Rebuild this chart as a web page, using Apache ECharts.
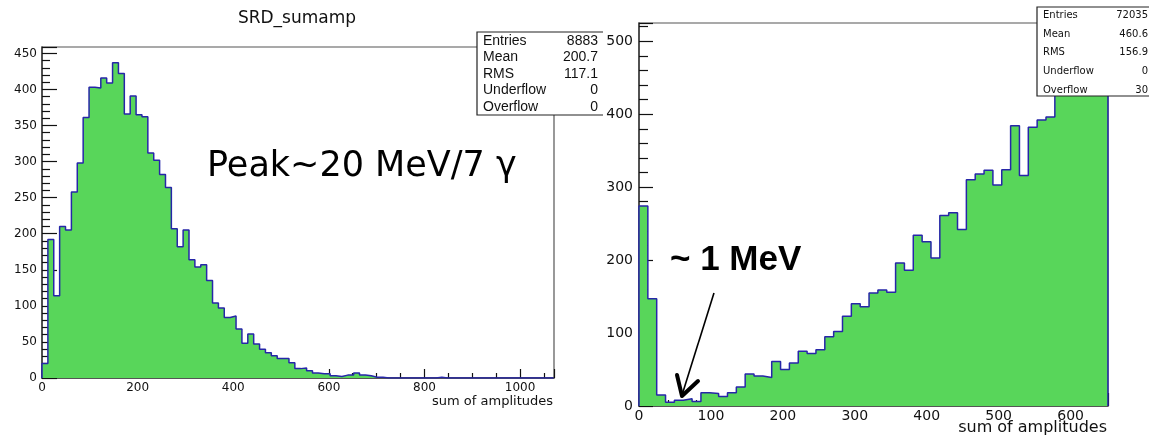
<!DOCTYPE html>
<html>
<head>
<meta charset="utf-8">
<script src="https://cdn.jsdelivr.net/npm/echarts@6/dist/echarts.min.js"></script>
<style>
html,body{margin:0;padding:0;background:#fff;}
#chart{width:1149px;height:436px;}
</style>
</head>
<body>
<div id="chart"></div>
<script>
// ---- data ----
const binWidth = 12.3;                 // histogram bin width (sum of amplitudes)
const leftCounts = [20,192,114,210,205,258,298,361,403,402,416,409,437,422,366,391,365,362,312,302,
  282,264,207,182,205,164,154,157,135,104,97,84,86,68,48,61,47,40,35,31,
  27,27,21,13,14,10,7,6,6,3,2,4,4,7,4,3,1,1,0,0,
  0,0,0,0,0,0,0,1,0,0,0,0,0,0,0,0,0,0,0,0,
  0,0,0,0,0,0,0];
const rightCounts = [274,147,15,5,8,10,6,18,17,13,18,26,44,41,39,61,50,59,75,72,
  77,95,102,123,140,136,155,159,156,196,186,234,225,203,261,265,242,310,318,323,
  303,324,384,316,382,392,396,430,445,460,470,500,480];
const leftAxisRange = {xMax: 1071, yMax: 458.85, xStep: 200, yStep: 50};
const rightAxisRange = {xMax: 652, yMax: 525, xStep: 100, yStep: 100};
const leftStatsNames = ['Entries','Mean','RMS','Underflow','Overflow'];
const leftStatsValues = ['8883','200.7','117.1','0','0'];
const rightStatsNames = ['Entries','Mean','RMS','Underflow','Overflow'];
const rightStatsValues = ['72035','460.6','156.9','0','30'];
const titleText = 'SRD_sumamp';
const xTitle = 'sum of amplitudes';
const peakNote = 'Peak~20 MeV/7 \u03b3';
const mevNote = '~ 1 MeV';

function stepData(counts){
  const d = [[0,0]];
  counts.forEach((c,k)=>d.push([k*binWidth, c]));
  const end = counts.length*binWidth;
  d.push([end, counts[counts.length-1]]);
  d.push([end, 0]);
  return d;
}

const FILL = '#58d65a', LINE = '#2626a8';
const AX = '#3a3a3a';
const plainNum = v => String(v);

function xAx(gi, r, o){
  return {gridIndex:gi, type:'value', min:0, max:r.xMax, interval:r.xStep,
    axisLine:{show:true, onZero:false, lineStyle:{color:AX, width:1.5}},
    axisTick:{show:true, inside:true, length:o.maj, lineStyle:{color:'#111', width:1.2}},
    minorTick:{show:true, splitNumber:o.split, length:o.min, lineStyle:{color:'#111', width:1.2}},
    axisLabel:{margin:o.margin, fontFamily:'DejaVu Sans', fontSize:o.fs, color:'#111', showMaxLabel:false, formatter:plainNum},
    splitLine:{show:false}, minorSplitLine:{show:false}};
}
function yAx(gi, r, o){
  return {gridIndex:gi, type:'value', min:0, max:r.yMax, interval:r.yStep,
    axisLine:{show:true, onZero:false, lineStyle:{color:AX, width:1.5}},
    axisTick:{show:true, inside:true, length:o.maj, lineStyle:{color:'#111', width:1.2}},
    minorTick:{show:true, splitNumber:o.split, length:o.min, lineStyle:{color:'#111', width:1.2}},
    axisLabel:{margin:o.margin, fontFamily:'DejaVu Sans', fontSize:o.fs, color:'#111', showMaxLabel:false, formatter:plainNum},
    splitLine:{show:false}, minorSplitLine:{show:false}};
}

function statsBox(x, y, w, h, names, values, labelX, valueX, rowY, rowStep, font){
  const els = [
    {type:'rect', z:100, shape:{x:x, y:y, width:w, height:h}, style:{fill:'#fff', stroke:null}},
    {type:'polyline', z:101, shape:{points:[[x+w,y],[x,y],[x,y+h],[x+w,y+h]]}, style:{stroke:'#222', lineWidth:1.2, fill:null}}
  ];
  names.forEach((n,i)=>{
    els.push({type:'text', z:102, x:labelX, y:rowY+i*rowStep, style:{text:n, font:font, fill:'#111', textAlign:'left', textVerticalAlign:'middle'}});
    els.push({type:'text', z:102, x:valueX, y:rowY+i*rowStep, style:{text:values[i], font:font, fill:'#111', textAlign:'right', textVerticalAlign:'middle'}});
  });
  return els;
}

const chart = echarts.init(document.getElementById('chart'), null, {renderer:'canvas'});
const graphics = [
  {type:'text', x:297, y:19, style:{text:titleText, font:'17px "DejaVu Sans"', fill:'#111', textAlign:'center', textVerticalAlign:'middle'}},
  {type:'text', x:553, y:402, style:{text:xTitle, font:'13px "DejaVu Sans"', fill:'#111', textAlign:'right', textVerticalAlign:'middle'}},
  {type:'text', x:1107, y:428, style:{text:xTitle, font:'16px "DejaVu Sans"', fill:'#111', textAlign:'right', textVerticalAlign:'middle'}},
  {type:'text', x:207, y:167, style:{text:peakNote, font:'35px "DejaVu Sans"', fill:'#000', textAlign:'left', textVerticalAlign:'middle'}},
  {type:'text', x:670, y:260, style:{text:mevNote, font:'bold 35px "Liberation Sans"', fill:'#000', textAlign:'left', textVerticalAlign:'middle'}},
  {type:'line', z:50, shape:{x1:714, y1:293, x2:682, y2:395}, style:{stroke:'#000', lineWidth:1.6}},
  {type:'polyline', z:50, shape:{points:[[677,375],[682,396],[698,381]]}, style:{stroke:'#000', lineWidth:4, lineCap:'round', lineJoin:'round', fill:null}}
].concat(
  statsBox(477, 32, 126, 83, leftStatsNames, leftStatsValues, 483, 598, 40.7, 16.6, '14px "Liberation Sans"'),
  statsBox(1037, 7, 115, 89, rightStatsNames, rightStatsValues, 1043, 1148, 15.7, 18.6, '10px "DejaVu Sans"')
);

chart.setOption({
  animation:false,
  backgroundColor:'#fff',
  grid:[
    {left:42, top:47, width:512, height:331, show:true, borderColor:'#555', borderWidth:1.2, backgroundColor:'transparent'},
    {left:639, top:23, width:469, height:383, show:true, borderColor:'#555', borderWidth:1.2, backgroundColor:'transparent'}
  ],
  xAxis:[
    xAx(0, leftAxisRange, {maj:9, min:5, split:4, margin:4, fs:12}),
    xAx(1, rightAxisRange, {maj:13, min:6, split:5, margin:3, fs:14})
  ],
  yAxis:[
    yAx(0, leftAxisRange, {maj:15, min:8, split:5, margin:5, fs:12}),
    yAx(1, rightAxisRange, {maj:14, min:9, split:5, margin:6, fs:14})
  ],
  series:[
    {type:'line', xAxisIndex:0, yAxisIndex:0, step:'end', showSymbol:false, symbol:'none', data:stepData(leftCounts),
      lineStyle:{color:LINE, width:1.5}, areaStyle:{color:FILL, opacity:1}, z:3},
    {type:'line', xAxisIndex:1, yAxisIndex:1, step:'end', showSymbol:false, symbol:'none', data:stepData(rightCounts),
      lineStyle:{color:LINE, width:1.5}, areaStyle:{color:FILL, opacity:1}, z:3}
  ],
  graphic:graphics
});
</script>
</body>
</html>
